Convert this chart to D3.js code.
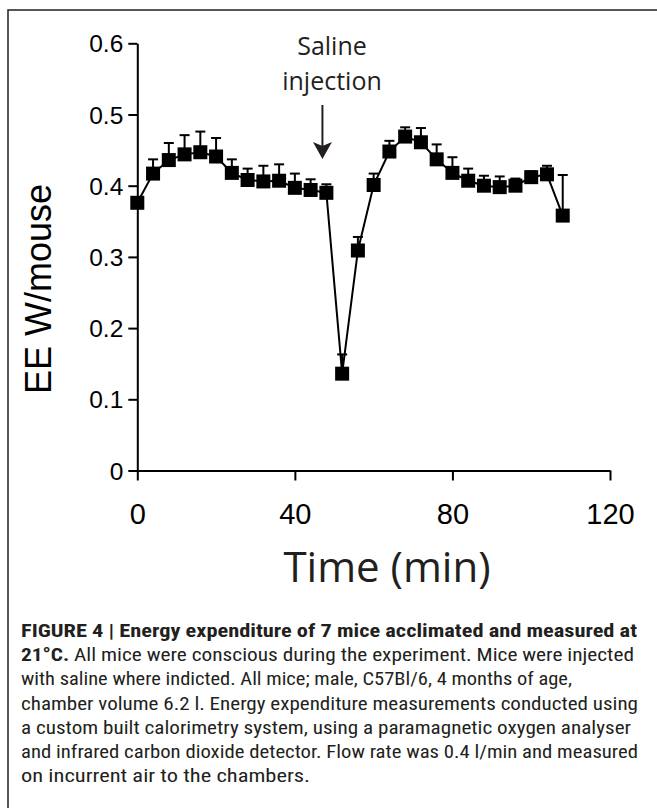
<!DOCTYPE html>
<html>
<head>
<meta charset="utf-8">
<script src="https://cdn.jsdelivr.net/npm/d3@7"></script>
<style>
  body { margin: 0; background: #fff; }
  svg { display: block; }
</style>
</head>
<body>
<svg id="chart"></svg>
<script>
// time points (min) and mean energy expenditure (W/mouse), upper SEM
const times = [0, 4, 8, 12, 16, 20, 24, 28, 32, 36, 40, 44, 48, 52,
  56, 60, 64, 68, 72, 76, 80, 84, 88, 92, 96, 100, 104, 108];
const eeMean = [0.376, 0.417, 0.436, 0.444, 0.447, 0.441, 0.418, 0.408, 0.406, 0.407,
  0.397, 0.394, 0.390, 0.136, 0.309, 0.401, 0.448, 0.469, 0.461, 0.437,
  0.418, 0.407, 0.400, 0.398, 0.400, 0.412, 0.416, 0.358];
const eeSem = [0.005, 0.020, 0.024, 0.027, 0.029, 0.026, 0.019, 0.016, 0.022, 0.023,
  0.020, 0.015, 0.012, 0.027, 0.019, 0.016, 0.015, 0.013, 0.020, 0.021,
  0.022, 0.017, 0.014, 0.015, 0.010, 0.008, 0.012, 0.057];

const xTicks = [0, 40, 80, 120];
const yTicks = [0, 0.1, 0.2, 0.3, 0.4, 0.5, 0.6];
const injectionTime = 47;

const captionLines = [
  [{ t: 'FIGURE 4 | Energy expenditure of 7 mice acclimated and measured at', b: true }],
  [{ t: '21°C.', b: true }, { t: ' All mice were conscious during the experiment. Mice were injected', b: false }],
  [{ t: 'with saline where indicted. All mice; male, C57Bl/6, 4 months of age,', b: false }],
  [{ t: 'chamber volume 6.2 l. Energy expenditure measurements conducted using', b: false }],
  [{ t: 'a custom built calorimetry system, using a paramagnetic oxygen analyser', b: false }],
  [{ t: 'and infrared carbon dioxide detector. Flow rate was 0.4 l/min and measured', b: false }],
  [{ t: 'on incurrent air to the chambers.', b: false }]
];
const captionWidths = [616, 613, 551, 617, 610, 617, 289];

const width = 657;
const height = 808;
const ink = '#231f20';

const svg = d3.select('#chart')
  .attr('width', width)
  .attr('height', height);

// figure frame (top + left)
svg.append('path')
  .attr('d', `M8,${height} L8,10 L${width},10`)
  .attr('fill', 'none')
  .attr('stroke', ink)
  .attr('stroke-width', 1.5);

const x = d3.scaleLinear().domain([0, 120]).range([137.3, 610]);
const y = d3.scaleLinear().domain([0, 0.6]).range([470.5, 43.3]);

// axes
const yAxis = svg.append('g')
  .attr('transform', `translate(${x(0)},0)`)
  .call(d3.axisLeft(y).tickValues(yTicks).tickSize(9).tickSizeOuter(0)
    .tickFormat(d => d === 0 ? '0' : d3.format('.1f')(d)));

const xAxis = svg.append('g')
  .attr('transform', `translate(0,${y(0)})`)
  .call(d3.axisBottom(x).tickValues(xTicks).tickSize(10).tickSizeOuter(0));

[yAxis, xAxis].forEach(g => {
  g.select('.domain').attr('stroke', '#000').attr('stroke-width', 2);
  g.selectAll('.tick line').attr('stroke', '#000').attr('stroke-width', 2);
});

yAxis.selectAll('.tick text')
  .attr('x', -14)
  .attr('dy', '0.35em')
  .attr('fill', '#000')
  .style('font-family', '"Liberation Sans", Arial, sans-serif')
  .style('font-size', '24.5px');

xAxis.selectAll('.tick text')
  .attr('y', 53.5)
  .attr('dy', 0)
  .attr('fill', '#000')
  .style('font-family', '"Liberation Sans", Arial, sans-serif')
  .style('font-size', '29px');

// axis titles
svg.append('text')
  .attr('transform', 'translate(51,289) rotate(-90)')
  .attr('text-anchor', 'middle')
  .attr('fill', '#000')
  .style('font-family', '"Liberation Sans", Arial, sans-serif')
  .style('font-size', '36px')
  .text('EE W/mouse');

svg.append('text')
  .attr('x', 387)
  .attr('y', 582)
  .attr('text-anchor', 'middle')
  .attr('fill', ink)
  .style('font-family', '"Open Sans", sans-serif')
  .style('font-size', '42px')
  .text('Time (min)');

// error bars (upper only)
const pts = times.map((t, i) => ({ t, m: eeMean[i], s: eeSem[i] }));
const err = svg.append('g').attr('stroke', '#000').attr('stroke-width', 2);
err.selectAll('line.v')
  .data(pts)
  .join('line')
  .attr('class', 'v')
  .attr('x1', d => x(d.t)).attr('x2', d => x(d.t))
  .attr('y1', d => y(d.m)).attr('y2', d => y(d.m + d.s));
err.selectAll('line.cap')
  .data(pts)
  .join('line')
  .attr('class', 'cap')
  .attr('x1', d => x(d.t) - 5).attr('x2', d => x(d.t) + 5)
  .attr('y1', d => y(d.m + d.s)).attr('y2', d => y(d.m + d.s));

// mean line
svg.append('path')
  .datum(pts)
  .attr('fill', 'none')
  .attr('stroke', '#000')
  .attr('stroke-width', 2)
  .attr('d', d3.line().x(d => x(d.t)).y(d => y(d.m)));

// square markers
svg.append('g')
  .selectAll('rect')
  .data(pts)
  .join('rect')
  .attr('x', d => x(d.t) - 7)
  .attr('y', d => y(d.m) - 7)
  .attr('width', 14)
  .attr('height', 14)
  .attr('fill', '#000');

// injection annotation
const ann = svg.append('g').attr('fill', ink)
  .attr('text-anchor', 'middle')
  .style('font-family', '"Open Sans", sans-serif')
  .style('font-size', '25px');
ann.append('text').attr('x', 332).attr('y', 55).text('Saline');
ann.append('text').attr('x', 332).attr('y', 90).text('injection');

const ax = x(injectionTime);
svg.append('line')
  .attr('x1', ax).attr('x2', ax)
  .attr('y1', 105).attr('y2', 150)
  .attr('stroke', ink)
  .attr('stroke-width', 2);
svg.append('path')
  .attr('d', `M${ax},159 L${ax - 9.5},142 L${ax},146 L${ax + 9.5},142 Z`)
  .attr('fill', ink);

// caption
const cap = svg.append('g')
  .attr('fill', ink)
  .style('font-family', '"Liberation Sans Narrow", "Roboto Condensed", "Liberation Sans", sans-serif')
  .style('font-size', '18.5px');

captionLines.forEach((parts, i) => {
  const txt = cap.append('text')
    .attr('x', 21)
    .attr('y', 637 + i * 24.2)
    .attr('textLength', captionWidths[i])
    .attr('lengthAdjust', 'spacingAndGlyphs');
  parts.forEach(p => {
    txt.append('tspan')
      .attr('font-weight', p.b ? 'bold' : 'normal')
      .text(p.t);
  });
});
</script>
</body>
</html>
